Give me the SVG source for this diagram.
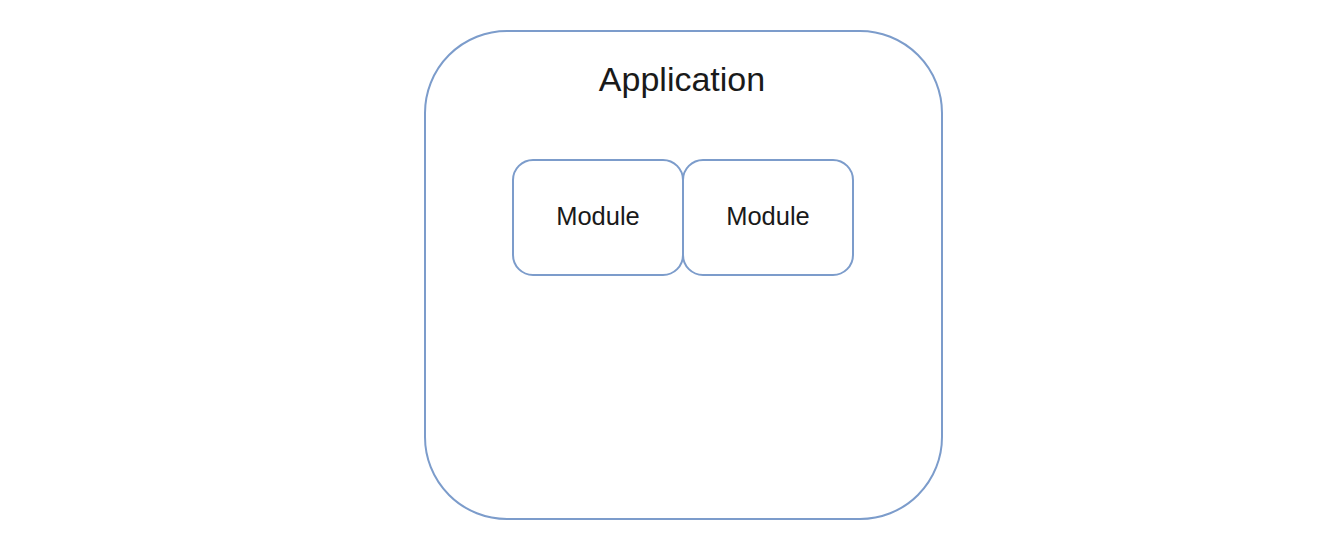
<svg xmlns="http://www.w3.org/2000/svg" width="1332" height="560" viewBox="0 0 1332 560">
<style>
.box{fill:#ffffff;stroke:#7c9ccb;stroke-width:2}
.t{font-family:"Liberation Sans",Arial,sans-serif;fill:#1a1a1a;text-anchor:middle}
</style>
<rect width="1332" height="560" fill="#ffffff"/>
<g id="application">
<rect class="box" x="425" y="31" width="517" height="488" rx="82" ry="82"/>
<text class="t" x="682" y="91" font-size="34">Application</text>
</g>
<g id="module1">
<rect class="box" x="513" y="160" width="170" height="115" rx="20" ry="20"/>
<text class="t" x="598" y="225" font-size="25.5">Module</text>
</g>
<g id="module2">
<rect class="box" x="683" y="160" width="170" height="115" rx="20" ry="20"/>
<text class="t" x="768" y="225" font-size="25.5">Module</text>
</g>
<g id="connectors"></g>
</svg>
